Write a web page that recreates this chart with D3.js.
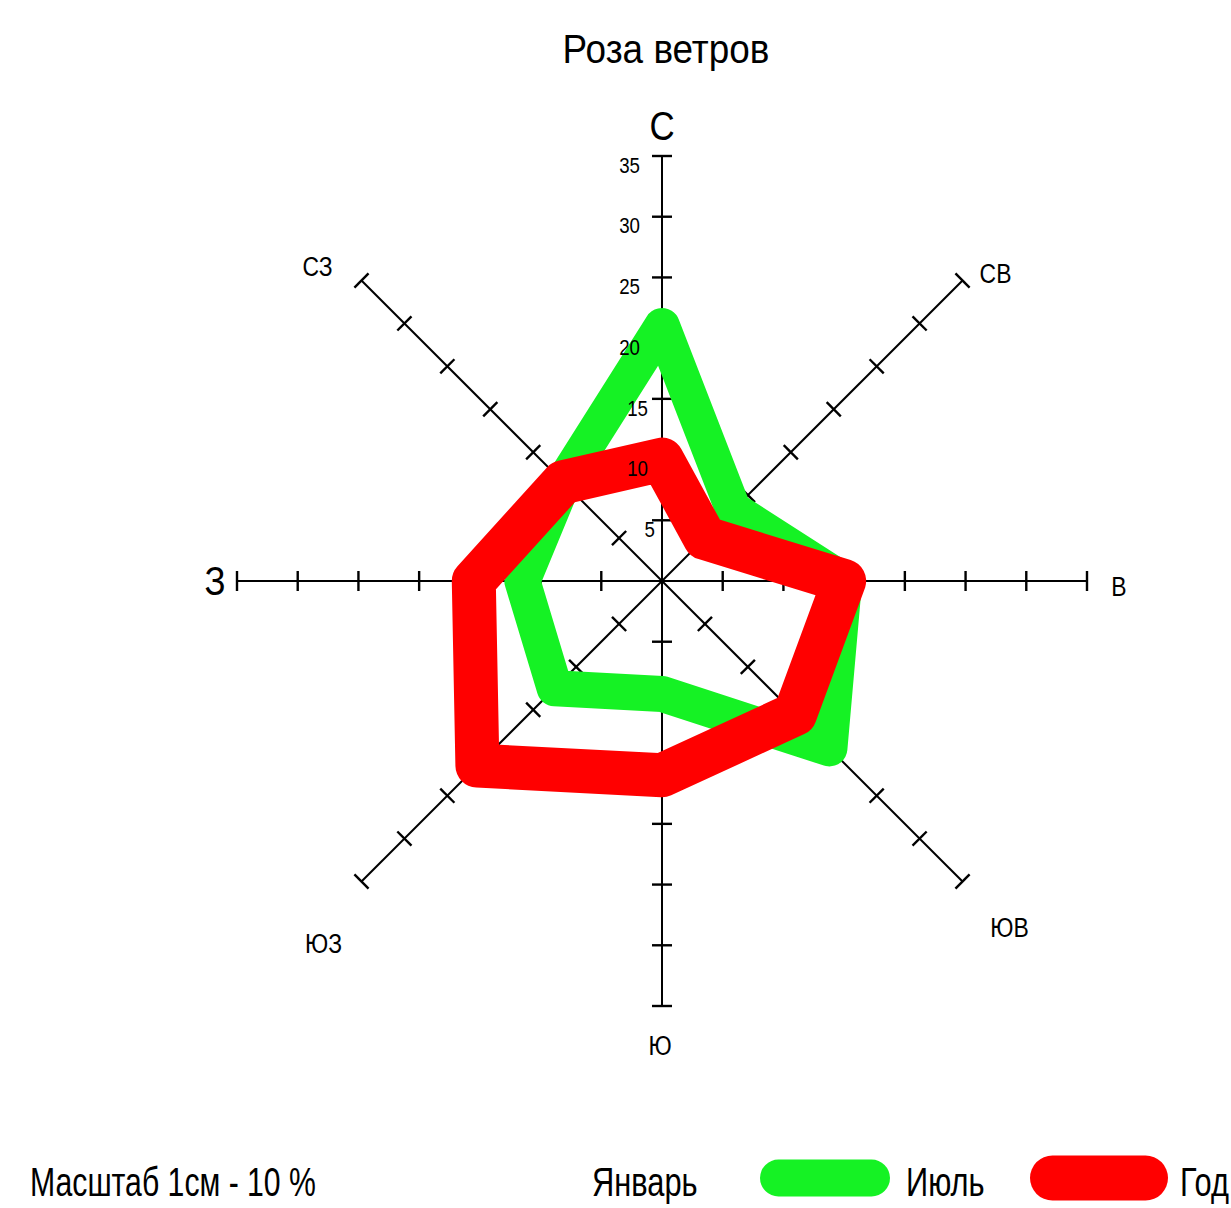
<!DOCTYPE html>
<html>
<head>
<meta charset="utf-8">
<script src="https://cdn.jsdelivr.net/npm/d3@7"></script>
<style>
  html, body { margin: 0; padding: 0; background: #fff; }
  svg text { font-family: "Liberation Sans Narrow", "Arial Narrow", "Liberation Sans", sans-serif; fill: #000; }
</style>
</head>
<body>
<svg id="chart" width="1231" height="1208"></svg>
<script>
  // directions, clockwise from north
  const directions = ['С', 'СВ', 'В', 'ЮВ', 'Ю', 'ЮЗ', 'З', 'СЗ'];
  const tickValues = [5, 10, 15, 20, 25, 30, 35];
  // % of winds per direction
  const julyValues = [21, 8.3, 15, 19.5, 9.3, 12.5, 11.5, 11.5];
  const yearValues = [10, 5, 15, 15.5, 16, 21.5, 15.5, 11.5];
  const legendLabels = ['Январь', 'Июль', 'Год'];

  const svg = d3.select('#chart');
  const cx = 662, cy = 581;
  const r = d3.scaleLinear().domain([0, 35]).range([0, 425]);
  const angle = (i) => i * Math.PI / 4;

  // no narrow font available, so squeeze text horizontally around its anchor
  function narrowText(sel, x, y, sx) {
    return sel.attr('transform', `translate(${x},${y}) scale(${sx},1)`);
  }

  narrowText(svg.append('text'), 666, 63, 0.9)
    .attr('text-anchor', 'middle')
    .style('font-size', '41px')
    .text('Роза ветров');

  const g = svg.append('g').attr('transform', `translate(${cx},${cy})`);

  // axes with ticks
  const axes = g.append('g').selectAll('g')
    .data(directions)
    .join('g')
    .attr('transform', (d, i) => `rotate(${i * 45})`);

  axes.append('line')
    .attr('x1', 0).attr('y1', 0)
    .attr('x2', 0).attr('y2', -r(35))
    .attr('stroke', '#000').attr('stroke-width', 2);

  axes.selectAll('line.tick')
    .data(tickValues)
    .join('line')
    .attr('class', 'tick')
    .attr('x1', -10).attr('x2', 10)
    .attr('y1', (v) => -r(v)).attr('y2', (v) => -r(v))
    .attr('stroke', '#000').attr('stroke-width', 2.4);

  // series polygons
  const line = d3.lineRadial()
    .angle((d, i) => angle(i))
    .radius((d) => r(d))
    .curve(d3.curveLinearClosed);

  g.append('path')
    .attr('d', line(julyValues))
    .attr('fill', 'none')
    .attr('stroke', '#15f224')
    .attr('stroke-width', 36)
    .attr('stroke-linejoin', 'round');

  g.append('path')
    .attr('d', line(yearValues))
    .attr('fill', 'none')
    .attr('stroke', '#ff0000')
    .attr('stroke-width', 44)
    .attr('stroke-linejoin', 'round');

  // tick labels on the north axis
  g.append('g').selectAll('text')
    .data(tickValues)
    .join('text')
    .each(function (v) {
      const x = v >= 20 ? -22 : v >= 10 ? -14 : -7;
      narrowText(d3.select(this), x, -r(v) + 9, 0.85);
    })
    .attr('dy', '0.35em')
    .attr('text-anchor', 'end')
    .style('font-size', '22px')
    .text((v) => v);

  // direction labels
  const labelOffset = {
    'С': [0, -30, 41], 'СВ': [33, -7, 27], 'В': [32, 6, 27], 'ЮВ': [47, 46, 27],
    'Ю': [-2, 40, 27], 'ЮЗ': [-38, 62, 27], 'З': [-22, 0, 41], 'СЗ': [-44, -14, 27]
  };
  g.append('g').selectAll('text')
    .data(directions)
    .join('text')
    .each(function (d, i) {
      const x = r(35) * Math.sin(angle(i)) + labelOffset[d][0];
      const y = -r(35) * Math.cos(angle(i)) + labelOffset[d][1];
      narrowText(d3.select(this), x, y, 0.85);
    })
    .attr('dy', '0.35em')
    .attr('text-anchor', 'middle')
    .style('font-size', (d) => labelOffset[d][2] + 'px')
    .text((d) => d);

  // legend
  narrowText(svg.append('text'), 30, 1196, 0.755)
    .style('font-size', '40px')
    .text('Масштаб 1см - 10 %');

  const legend = [
    { label: legendLabels[0], x: 592, color: null },
    { label: legendLabels[1], x: 906, color: '#15f224', w: 37, x1: 778.5, x2: 871.5 },
    { label: legendLabels[2], x: 1180, color: '#ff0000', w: 45, x1: 1052.5, x2: 1145.5 }
  ];
  legend.forEach((l) => {
    if (l.color) {
      svg.append('line')
        .attr('x1', l.x1).attr('x2', l.x2)
        .attr('y1', 1178).attr('y2', 1178)
        .attr('stroke', l.color)
        .attr('stroke-width', l.w)
        .attr('stroke-linecap', 'round');
    }
    narrowText(svg.append('text'), l.x, 1196, 0.77)
      .style('font-size', '40px')
      .text(l.label);
  });
</script>
</body>
</html>
